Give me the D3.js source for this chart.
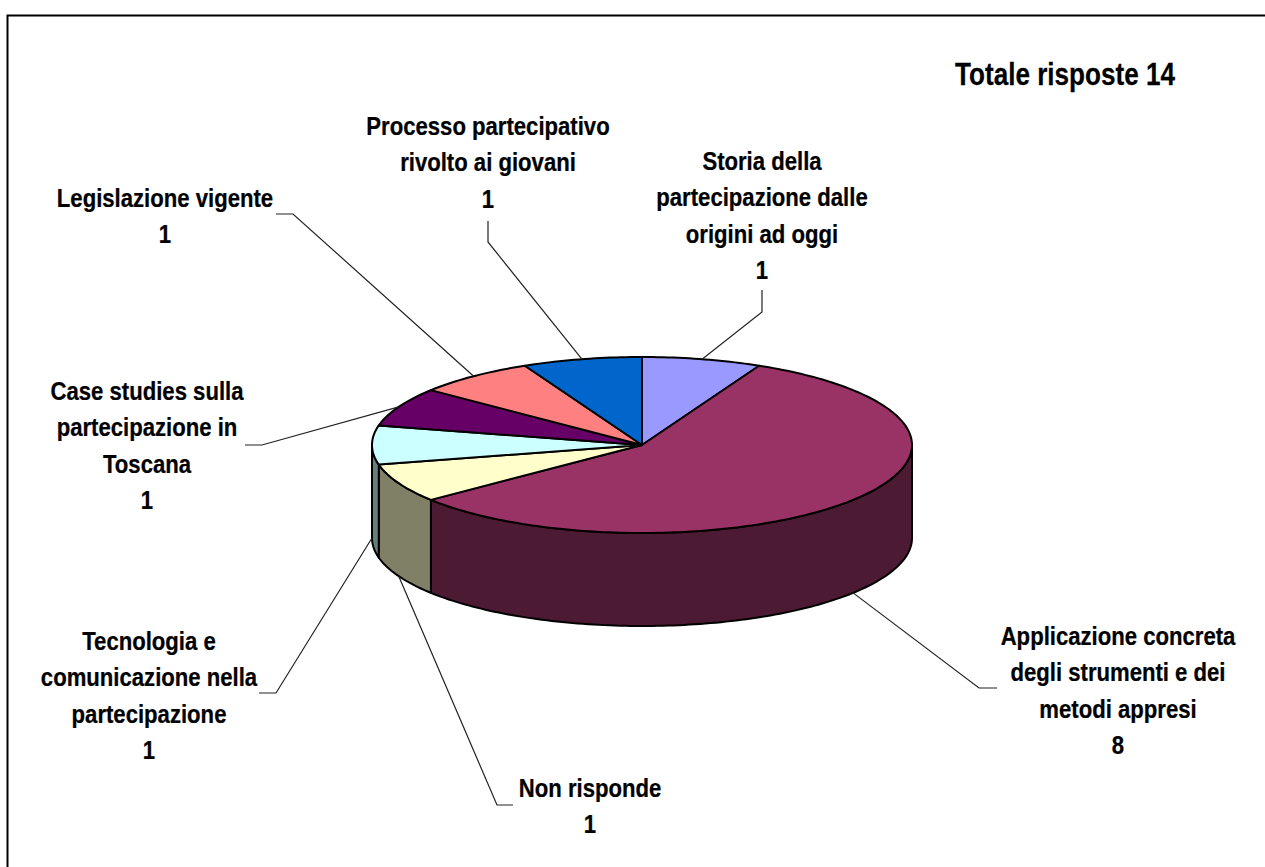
<!DOCTYPE html>
<html lang="it">
<head>
<meta charset="UTF-8">
<title>Totale risposte 14</title>
<script src="https://d3js.org/d3.v7.min.js"></script>
<style>
html, body { margin: 0; padding: 0; background: #fff; }
svg { display: block; }
text { font-family: "Liberation Sans", Arial, sans-serif; font-weight: bold; fill: #000; stroke: #000; stroke-width: 0.25; }
</style>
</head>
<body>
<div id="chart"></div>
<script>
const categories = [
  "Storia della partecipazione dalle origini ad oggi",
  "Applicazione concreta degli strumenti e dei metodi appresi",
  "Non risponde",
  "Tecnologia e comunicazione nella partecipazione",
  "Case studies sulla partecipazione in Toscana",
  "Legislazione vigente",
  "Processo partecipativo rivolto ai giovani"
];
const values = [1, 8, 1, 1, 1, 1, 1];
const colors = ["#9999FF", "#993366", "#FFFFCC", "#CCFFFF", "#660066", "#FF8080", "#0066CC"];

// how each label wraps in the picture
const labelLines = [
  ["Storia della", "partecipazione dalle", "origini ad oggi"],
  ["Applicazione concreta", "degli strumenti e dei", "metodi appresi"],
  ["Non risponde"],
  ["Tecnologia e", "comunicazione nella", "partecipazione"],
  ["Case studies sulla", "partecipazione in", "Toscana"],
  ["Legislazione vigente"],
  ["Processo partecipativo", "rivolto ai giovani"]
];

// layout, same order as categories: label centre, first baseline, leader elbow and end
const labelX = [762, 1118, 590, 149, 147, 165, 488];
const labelY = [170, 645, 797, 650, 400, 207, 135];
const leaderElbow = [[762, 312], [979, 688], [497, 805], [276, 693], [262, 445], [293, 214], [488, 242]];
const leaderEnd = [[762, 290], [997, 688], [513, 805], [259, 693], [245, 445], [276, 214], [488, 221]];

const width = 1265, height = 867;
const cx = 642, cy = 445, rx = 270, ry = 88, depth = 93;
const lineGap = 36.5, fontSize = 25, squeeze = 0.885;

const svg = d3.select("#chart").append("svg")
  .attr("width", width)
  .attr("height", height);

// frame, only the top and left edges show
svg.append("path")
  .attr("d", `M7.5,${height}V15.5H${width}`)
  .attr("fill", "none")
  .attr("stroke", "#000")
  .attr("stroke-width", 2);

const arcs = d3.pie().sort(null).value(d => d)(values);

const px = a => cx + rx * Math.sin(a);
const py = a => cy - ry * Math.cos(a);
const line = d3.line();

function sampleAngles(a0, a1) {
  const n = Math.max(2, Math.ceil((a1 - a0) / 0.02));
  return d3.range(n + 1).map(i => a0 + (a1 - a0) * i / n);
}

// front walls first, only the part of a slice between 90 and 270 degrees shows
const frontA = Math.PI / 2, frontB = Math.PI * 3 / 2;
const wall = svg.append("g");
arcs.forEach((d, i) => {
  const a0 = Math.max(d.startAngle, frontA), a1 = Math.min(d.endAngle, frontB);
  if (a1 <= a0) return;
  const top = sampleAngles(a0, a1).map(a => [px(a), py(a)]);
  const bottom = sampleAngles(a0, a1).reverse().map(a => [px(a), py(a) + depth]);
  const c = d3.rgb(colors[i]);
  wall.append("path")
    .attr("d", line(top.concat(bottom)) + "Z")
    .attr("fill", d3.rgb(c.r / 2, c.g / 2, c.b / 2))
    .attr("stroke", "#000")
    .attr("stroke-width", 2)
    .attr("stroke-linejoin", "round");
});

// top surface
const face = svg.append("g");
arcs.forEach((d, i) => {
  const rim = sampleAngles(d.startAngle, d.endAngle).map(a => [px(a), py(a)]);
  face.append("path")
    .attr("d", line([[cx, cy]].concat(rim)) + "Z")
    .attr("fill", colors[i])
    .attr("stroke", "#000")
    .attr("stroke-width", 2)
    .attr("stroke-linejoin", "round");
});

// leaders start from the middle of each slice, on the lower rim for front slices
const leaders = svg.append("g");
arcs.forEach((d, i) => {
  const mid = (d.startAngle + d.endAngle) / 2;
  const front = mid > frontA && mid <= frontB;
  const start = [px(mid), py(mid) + (front ? depth : 0)];
  leaders.append("path")
    .attr("d", line([start, leaderElbow[i], leaderEnd[i]]))
    .attr("fill", "none")
    .attr("stroke", "#222")
    .attr("stroke-width", 1.2);
});

// labels
const labels = svg.append("g");
categories.forEach((name, i) => {
  const t = labels.append("text")
    .attr("transform", `translate(${labelX[i]},${labelY[i]}) scale(${squeeze},1)`)
    .attr("text-anchor", "middle")
    .attr("font-size", fontSize);
  labelLines[i].concat(String(values[i])).forEach((s, k) => {
    t.append("tspan").attr("x", 0).attr("y", k * lineGap).text(s);
  });
});

svg.append("text")
  .attr("transform", "translate(1065,85) scale(0.815,1)")
  .attr("text-anchor", "middle")
  .attr("font-size", 32)
  .text("Totale risposte 14");
</script>
</body>
</html>
